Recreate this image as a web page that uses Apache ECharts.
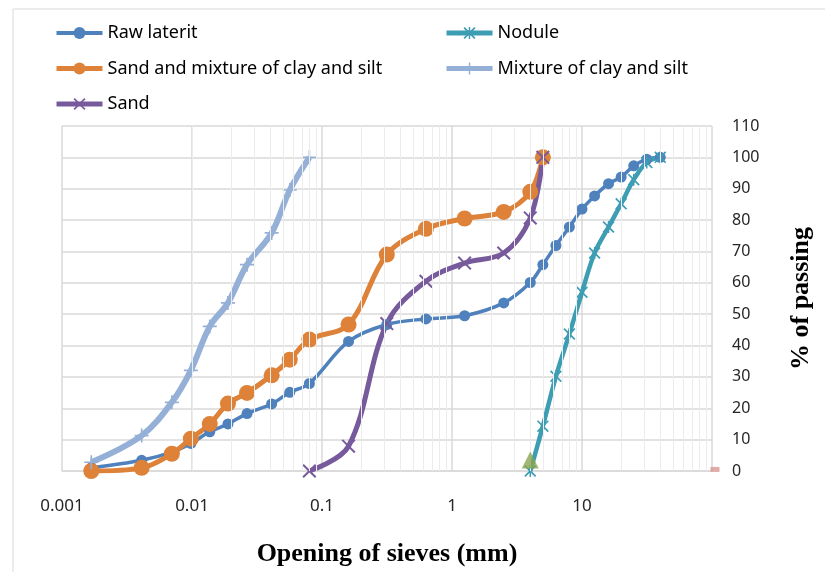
<!DOCTYPE html>
<html>
<head>
<meta charset="utf-8">
<script src="https://cdn.jsdelivr.net/npm/echarts@6/dist/echarts.min.js"></script>
<style>
html, body { margin: 0; padding: 0; background: #fff; }
#chart { width: 825px; height: 572px; }
</style>
</head>
<body>
<div id="chart"></div>
<script>
// sieve openings (mm) and % passing
const rawLateritSize = [0.00168, 0.0041, 0.007, 0.0098, 0.0137, 0.0189, 0.0265, 0.041, 0.0565, 0.08, 0.16, 0.315, 0.63, 1.25, 2.5, 4, 5, 6.3, 8, 10, 12.5, 16, 20, 25, 31.5, 40];
const rawLateritPassing = [1, 3.4, 6, 8.8, 12.5, 15, 18.3, 21.4, 25.1, 27.9, 41.3, 46.7, 48.5, 49.5, 53.6, 60.1, 65.8, 71.9, 77.8, 83.5, 87.7, 91.6, 93.7, 97.3, 99.4, 100];

const noduleSize = [4, 5, 6.3, 8, 10, 12.5, 16, 20, 25, 31.5, 40];
const nodulePassing = [0, 14.3, 30.2, 43.7, 57, 69.5, 77.8, 85.2, 92.9, 98.4, 100];

const sandMixSize = [0.00168, 0.0041, 0.007, 0.0098, 0.0137, 0.0189, 0.0265, 0.041, 0.0565, 0.08, 0.16, 0.315, 0.63, 1.25, 2.5, 4, 5];
const sandMixPassing = [0, 1, 5.5, 10.3, 15, 21.5, 24.9, 30.5, 35.5, 41.9, 46.7, 69, 77.2, 80.5, 82.6, 89, 100];

const claySiltSize = [0.00168, 0.0041, 0.007, 0.0098, 0.0137, 0.0189, 0.0265, 0.041, 0.0565, 0.08];
const claySiltPassing = [2.8, 11.3, 21.9, 32.1, 46.1, 53.6, 65.8, 75.9, 89.6, 100];

const sandSize = [0.08, 0.16, 0.315, 0.63, 1.25, 2.5, 4, 5];
const sandPassing = [0, 7.9, 47, 60.5, 66.3, 69.5, 80.7, 100];

const trianglePoint = [[4, 3.5]];
const stubPoint = [[100, 0.5]];

// minor log grid
const decades = [0.001, 0.01, 0.1, 1, 10];
const minorSteps = [2, 3, 4, 5, 6, 7, 8, 9];

const pairs = (xs, ys) => xs.map((x, i) => [x, ys[i]]);

const crossPath = 'path://M0,1L1,0L10,9L9,10ZM9,0L10,1L1,10L0,9Z';
const plusPath = 'path://M4.4,0H5.6V10H4.4ZM0,4.4H10V5.6H0Z';
const starPath = 'path://M0,1L1,0L10,9L9,10ZM9,0L10,1L1,10L0,9ZM4.4,0H5.6V10H4.4Z';

const minorLines = [];
decades.forEach(d => minorSteps.forEach(m => minorLines.push({ xAxis: d * m })));

const legendText = { fontFamily: 'Noto Sans', fontSize: 18, color: '#000' };
const legendItem = (name, w) => ({ name: name, lineStyle: { width: w } });

const chart = echarts.init(document.getElementById('chart'));

chart.setOption({
  animation: false,
  graphic: [{
    type: 'rect', silent: true, z: -10,
    shape: { x: 13, y: 9, width: 900, height: 700 },
    style: { fill: 'none', stroke: '#d9d9d9', lineWidth: 1 }
  }],
  legend: [{
    left: 54, top: 24, orient: 'vertical', padding: 0,
    itemWidth: 46, itemHeight: 15, itemGap: 17.5,
    data: [legendItem('Raw laterit', 4), legendItem('Sand and mixture of clay and silt', 5), legendItem('Sand', 5)],
    textStyle: legendText
  }, {
    left: 444, top: 24, orient: 'vertical', padding: 0,
    itemWidth: 46, itemHeight: 15, itemGap: 17.5,
    data: [legendItem('Nodule', 5), legendItem('Mixture of clay and silt', 5)],
    textStyle: legendText
  }],
  grid: { left: 62, right: 113, top: 126, bottom: 100 },
  xAxis: {
    type: 'log', logBase: 10, min: 0.001, max: 100,
    name: 'Opening of sieves (mm)', nameLocation: 'middle', nameGap: 70,
    nameTextStyle: { fontFamily: 'Liberation Serif', fontWeight: 'bold', fontSize: 26, color: '#000' },
    axisLine: { lineStyle: { color: '#d9d9d9', width: 1.5 } },
    axisTick: { show: false },
    axisLabel: { margin: 27, fontFamily: 'Noto Sans', fontSize: 17, color: '#262626', showMaxLabel: false },
    splitLine: { show: true, lineStyle: { color: '#d9d9d9', width: 1.5 } }
  },
  yAxis: {
    type: 'value', position: 'right', min: 0, max: 110, interval: 10,
    name: '% of passing', nameLocation: 'middle', nameRotate: 90, nameGap: 76,
    nameTextStyle: { fontFamily: 'Liberation Serif', fontWeight: 'bold', fontSize: 26, color: '#000' },
    axisLine: { show: false },
    axisTick: { show: false },
    axisLabel: { margin: 20, fontFamily: 'Noto Sans', fontSize: 16, color: '#262626' },
    splitLine: { lineStyle: { color: '#d9d9d9', width: 1.5 } }
  },
  series: [
    {
      type: 'line', name: 'minor', data: [], z: 1, silent: true,
      markLine: {
        silent: true, symbol: ['none', 'none'], label: { show: false },
        lineStyle: { color: '#ececec', width: 1, type: 'solid' },
        data: minorLines
      }
    },
    {
      name: 'Raw laterit', type: 'line', smooth: 0.35, showAllSymbol: true,
      data: pairs(rawLateritSize, rawLateritPassing),
      symbol: 'circle', symbolSize: 11,
      lineStyle: { width: 3.5, color: '#4f81bd' },
      itemStyle: { color: '#4f81bd' }
    },
    {
      name: 'Nodule', type: 'line', smooth: 0.35, showAllSymbol: true,
      data: pairs(noduleSize, nodulePassing),
      symbol: starPath, symbolSize: 12,
      lineStyle: { width: 4.5, color: '#3d9db3' },
      itemStyle: { color: '#3d9db3' }
    },
    {
      name: 'Sand and mixture of clay and silt', type: 'line', smooth: 0.35, showAllSymbol: true,
      data: pairs(sandMixSize, sandMixPassing),
      symbol: 'circle', symbolSize: 16,
      lineStyle: { width: 5, color: '#dd8238' },
      itemStyle: { color: '#dd8238' }
    },
    {
      name: 'Mixture of clay and silt', type: 'line', smooth: 0.35, showAllSymbol: true,
      data: pairs(claySiltSize, claySiltPassing),
      symbol: plusPath, symbolSize: 14,
      lineStyle: { width: 6, color: '#95b0d6' },
      itemStyle: { color: '#95b0d6' }
    },
    {
      name: 'Sand', type: 'line', smooth: 0.35, showAllSymbol: true,
      data: pairs(sandSize, sandPassing),
      symbol: crossPath, symbolSize: 14,
      lineStyle: { width: 5, color: '#775a9c' },
      itemStyle: { color: '#775a9c' }
    },
    {
      name: 'triangle', type: 'scatter', data: trianglePoint, z: 5,
      symbol: 'triangle', symbolSize: [17, 17],
      itemStyle: { color: '#8aa64f' }
    },
    {
      name: 'stub', type: 'scatter', data: stubPoint, clip: false,
      symbol: 'rect', symbolSize: [9, 5], symbolOffset: [3, 0],
      itemStyle: { color: '#d99694' }
    }
  ]
});
</script>
</body>
</html>
